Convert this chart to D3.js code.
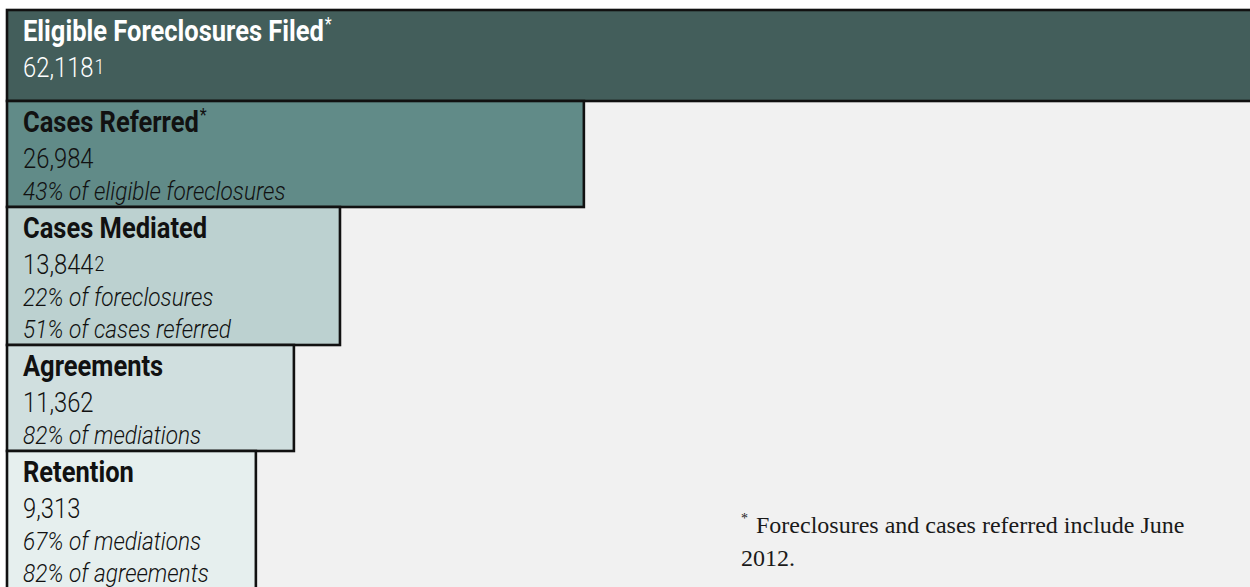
<!DOCTYPE html>
<html>
<head>
<meta charset="utf-8">
<script src="https://cdn.jsdelivr.net/npm/d3@7"></script>
<style>
  body { margin: 0; background: #fff; }
  svg { display: block; }
</style>
</head>
<body>
<svg id="chart" width="1250" height="587"></svg>
<script>
// funnel stages, top to bottom
var stages = ['Eligible Foreclosures Filed', 'Cases Referred', 'Cases Mediated', 'Agreements', 'Retention'];
var counts = [62118, 26984, 13844, 11362, 9313];
var title_marks = ['*', '*', '', '', ''];
var count_notes = ['1', '', '2', '', ''];
var shares = [
	[],
	['43% of eligible foreclosures'],
	['22% of foreclosures', '51% of cases referred'],
	['82% of mediations'],
	['67% of mediations', '82% of agreements']
];
var footnote_lines = ['Foreclosures and cases referred include June', '2012.'];

var svg = d3.select('#chart');
var width = +svg.attr('width'), height = +svg.attr('height');
var left = 7, top_y = 10, text_x = 23;

// no condensed face installed, so Roboto gets squeezed horizontally
var cond = 'Roboto, "Liberation Sans", sans-serif';

// page panel
svg.append('rect')
	.attr('x', left).attr('y', top_y)
	.attr('width', width - left).attr('height', height - top_y)
	.attr('fill', '#f1f1f1');

// bar length: offset linear scale (the report's boxes are not strictly proportional)
var x = d3.scaleLinear().domain([0, counts[0]]).range([left + 76, left + 1229]);

var color = d3.scaleOrdinal().domain(stages)
	.range(['#435e5b', '#618b88', '#bcd1d0', '#d0dfdf', '#e6efee']);

// stack the boxes, height follows number of text lines
var title_y = 31, num_y = 67, share_y = 99, share_gap = 32;
var rows = [];
var y0 = top_y;
stages.forEach(function(s, i) {
	var n = shares[i].length;
	var h = n == 0 ? num_y + 24 : share_y + share_gap * (n - 1) + 7;
	if (i == stages.length - 1) h = height - y0 + 10;
	rows.push({stage: s, count: counts[i], mark: title_marks[i], note: count_notes[i], shares: shares[i], y: y0, h: h, i: i});
	y0 += h;
});

var g = svg.selectAll('g.stage').data(rows).enter().append('g')
	.attr('class', 'stage')
	.attr('transform', d => 'translate(0,' + d.y + ')');

g.append('rect')
	.attr('x', left)
	.attr('y', 0)
	.attr('width', d => (d.i == 0 ? width + 10 : x(d.count)) - left)
	.attr('height', d => d.h)
	.attr('fill', d => color(d.stage))
	.attr('stroke', '#111')
	.attr('stroke-width', 2.6);

var ink = d => d.i == 0 ? '#ffffff' : '#111111';

// stage title, bold condensed
var t = g.append('text')
	.attr('transform', 'translate(' + text_x + ',' + title_y + ') scale(0.85,1)')
	.attr('font-family', cond)
	.attr('font-weight', 'bold')
	.attr('font-size', 30)
	.attr('fill', ink);
t.append('tspan').text(d => d.stage);
t.append('tspan')
	.attr('font-size', 19)
	.attr('dx', 1)
	.attr('dy', -11)
	.attr('font-weight', 'normal')
	.text(d => d.mark);

// count
var c = g.append('text')
	.attr('transform', 'translate(' + text_x + ',' + num_y + ') scale(0.85,1)')
	.attr('font-family', cond)
	.attr('font-weight', 300)
	.attr('font-size', 28)
	.attr('fill', ink);
c.append('tspan').text(d => d3.format(',')(d.count));
c.append('tspan')
	.attr('font-size', 21)
	.attr('dx', 1)
	.attr('dy', -3)
	.text(d => d.note);

// share lines, italic
g.selectAll('text.share').data(d => d.shares).enter().append('text')
	.attr('class', 'share')
	.attr('transform', (d, j) => 'translate(' + text_x + ',' + (share_y + share_gap * j) + ') scale(0.87,1)')
	.attr('font-family', cond)
	.attr('font-style', 'italic')
	.attr('font-weight', 300)
	.attr('font-size', 26)
	.attr('fill', '#111')
	.text(d => d);

// footnote
var fn = svg.append('g').attr('transform', 'translate(741,533)');
fn.append('text')
	.attr('x', 0).attr('y', -10)
	.attr('font-family', '"Liberation Serif", serif')
	.attr('font-size', 14)
	.attr('fill', '#1a1a1a')
	.text('*');
fn.selectAll('text.fn').data(footnote_lines).enter().append('text')
	.attr('class', 'fn')
	.attr('x', (d, i) => i == 0 ? 15 : 0)
	.attr('y', (d, i) => i * 33)
	.attr('font-family', '"Liberation Serif", serif')
	.attr('font-size', 24)
	.attr('fill', '#1a1a1a')
	.text(d => d);
</script>
</body>
</html>
